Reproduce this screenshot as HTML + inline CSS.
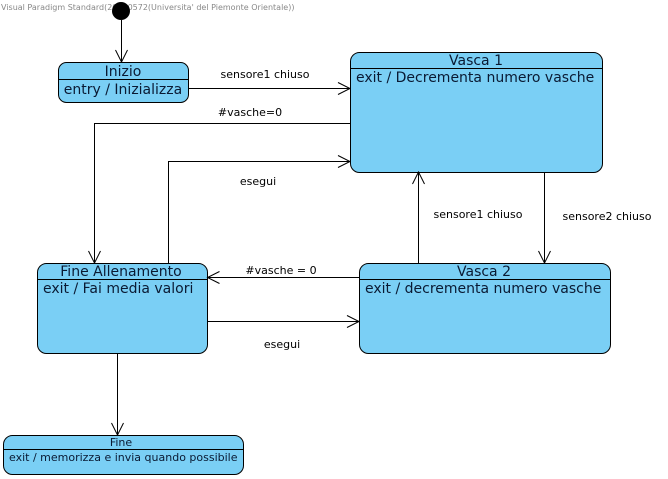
<!DOCTYPE html>
<html><head><meta charset="utf-8"><style>
html,body{margin:0;padding:0;background:#fff;}
svg{display:block;}
text{font-family:"DejaVu Sans","Liberation Sans",sans-serif;fill:#000;}
.t{font-size:14px;fill:#0a1a33;}
.l{font-size:11px;}
.b{fill:#7acff5;stroke:#000;stroke-width:1;}
.c{stroke:#000;stroke-width:1;fill:none;}
</style></head><body>
<svg width="668" height="479" viewBox="0 0 668 479" xmlns="http://www.w3.org/2000/svg">
<text x="1" y="10" style="font-size:8px;fill:#888">Visual Paradigm Standard(20020572(Universita' del Piemonte Orientale))</text>
<circle cx="121" cy="11" r="9" fill="#000"/>
<rect class="b" x="58.5" y="62.5" width="130" height="40" rx="8"/>
<line class="c" x1="58.5" y1="79.5" x2="188.5" y2="79.5"/>
<text class="t" x="123" y="76" text-anchor="middle">Inizio</text>
<text class="t" x="123" y="94" text-anchor="middle">entry / Inizializza</text>

<rect class="b" x="350.5" y="52.5" width="252" height="120" rx="9"/>
<line class="c" x1="350.5" y1="68.5" x2="602.5" y2="68.5"/>
<text class="t" x="476" y="65" text-anchor="middle">Vasca 1</text>
<text class="t" x="356" y="82">exit / Decrementa numero vasche</text>

<rect class="b" x="37.5" y="263.5" width="170" height="90" rx="9"/>
<line class="c" x1="37.5" y1="279.5" x2="207.5" y2="279.5"/>
<text class="t" x="121" y="276" text-anchor="middle">Fine Allenamento</text>
<text class="t" x="43" y="293">exit / Fai media valori</text>

<rect class="b" x="359.5" y="263.5" width="251" height="90" rx="9"/>
<line class="c" x1="359.5" y1="279.5" x2="610.5" y2="279.5"/>
<text class="t" x="484" y="276" text-anchor="middle">Vasca 2</text>
<text class="t" x="365" y="293">exit / decrementa numero vasche</text>

<rect class="b" x="3.5" y="435.5" width="240" height="39" rx="9"/>
<line class="c" x1="3.5" y1="449.5" x2="243.5" y2="449.5"/>
<text x="121" y="446" text-anchor="middle" style="font-size:11px;fill:#0a1a33">Fine</text>
<text x="9" y="461" style="font-size:11px;fill:#0a1a33">exit / memorizza e invia quando possibile</text>

<path class="c" d="M121.5 20 V62 M115.5 50 L121.5 62 L127.5 50"/>
<path class="c" d="M188.5 88.5 H350 M338 82.5 L350 88.5 L338 94.5"/>
<text class="l" x="265" y="78" text-anchor="middle">sensore1 chiuso</text>
<path class="c" d="M350 123.5 H94.5 V263 M88.5 251 L94.5 263 L100.5 251"/>
<text class="l" x="250" y="116" text-anchor="middle">#vasche=0</text>
<path class="c" d="M168.5 263 V161.5 H350 M338 155.5 L350 161.5 L338 167.5"/>
<text class="l" x="258" y="185" text-anchor="middle">esegui</text>
<path class="c" d="M544.5 172 V263 M538.5 251 L544.5 263 L550.5 251"/>
<text class="l" x="607" y="220" text-anchor="middle">sensore2 chiuso</text>
<path class="c" d="M418.5 263 V172 M412.5 184 L418.5 172 L424.5 184"/>
<text class="l" x="478" y="218" text-anchor="middle">sensore1 chiuso</text>
<path class="c" d="M359 277.5 H207.5 M219.5 271.5 L207.5 277.5 L219.5 283.5"/>
<text class="l" x="281" y="274" text-anchor="middle">#vasche = 0</text>
<path class="c" d="M207.5 321.5 H359 M347 315.5 L359 321.5 L347 327.5"/>
<text class="l" x="282" y="348" text-anchor="middle">esegui</text>
<path class="c" d="M117.5 353 V435 M111.5 423 L117.5 435 L123.5 423"/>
</svg>
</body></html>
